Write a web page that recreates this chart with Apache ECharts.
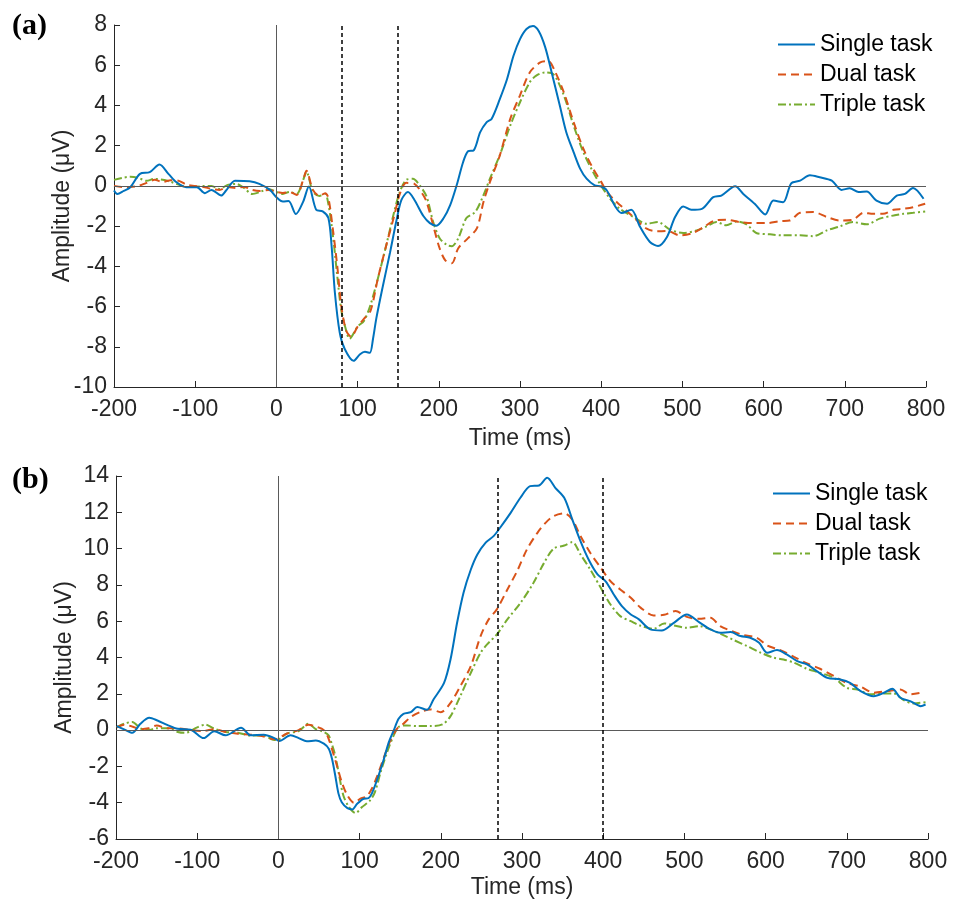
<!DOCTYPE html>
<html>
<head>
<meta charset="utf-8">
<script src="https://cdn.jsdelivr.net/npm/echarts@6/dist/echarts.min.js"></script>
<style>
  html, body { margin: 0; padding: 0; background: #fff; }
  #chart { width: 960px; height: 908px; }
</style>
</head>
<body>
<div id="chart"></div>
<script>
// time (ms), amplitude (uV) pairs
const aSingle = [[-200,-0.23],[-196,-0.4],[-188,-0.25],[-180,-0.07],[-168,0.6],[-156,0.68],[-144,1.06],[-133,0.6],[-123,0.18],[-111,-0.07],[-98,-0.07],[-88,-0.36],[-80,-0.2],[-68,-0.48],[-62,-0.23],[-51,0.26],[-33,0.23],[-21,0.1],[-8,-0.2],[0,-0.56],[8,-0.78],[15,-0.75],[24,-1.4],[33,-0.78],[40,-0.03],[49,-1.19],[57,-1.27],[64,-1.6],[68,-3.0],[72,-5.3],[78,-7.3],[84,-8.1],[95,-8.7],[103,-8.37],[109,-8.25],[115,-8.3],[119,-7.6],[123,-6.6],[131,-5.0],[140,-3.3],[148,-1.7],[154,-0.7],[162,-0.31],[170,-0.7],[181,-1.5],[189,-1.85],[197,-1.98],[206,-1.6],[214,-0.96],[222,0.03],[230,1.19],[236,1.72],[243,1.77],[251,2.67],[259,3.17],[265,3.33],[275,4.3],[284,5.3],[292,6.47],[300,7.3],[308,7.8],[316,7.95],[323,7.7],[331,6.9],[339,5.64],[349,4.0],[357,2.67],[366,1.68],[374,0.86],[382,0.36],[392,0.03],[400,-0.03],[407,-0.23],[417,-1.0],[425,-1.35],[437,-1.19],[448,-2.05],[460,-2.79],[470,-2.99],[481,-2.54],[491,-1.55],[501,-1.02],[511,-1.19],[524,-1.14],[538,-0.56],[548,-0.48],[565,-0.02],[575,-0.4],[589,-0.89],[602,-1.42],[612,-0.73],[624,-0.81],[634,0.13],[645,0.26],[657,0.53],[669,0.43],[684,0.26],[696,-0.2],[706,-0.12],[717,-0.31],[727,-0.28],[739,-0.73],[752,-0.89],[764,-0.48],[774,-0.4],[784,-0.1],[797,-0.64]]
const aDual = [[-200,0.0],[-190,-0.05],[-180,-0.05],[-170,0.0],[-160,0.15],[-150,0.3],[-140,0.2],[-130,0.28],[-120,0.25],[-110,0.05],[-100,0.0],[-90,-0.05],[-80,-0.15],[-70,-0.2],[-60,-0.05],[-50,-0.1],[-40,-0.05],[-30,-0.2],[-20,-0.25],[-10,-0.2],[0,-0.3],[8,-0.35],[16,-0.3],[25,-0.45],[33,0.3],[37,0.75],[45,-0.2],[53,-0.5],[60,-0.36],[64,-0.6],[70,-2.3],[75,-4.0],[80,-6.0],[86,-7.2],[92,-7.5],[100,-7.0],[108,-6.6],[116,-6.2],[125,-4.6],[135,-3.0],[145,-1.5],[152,-0.4],[160,0.15],[170,0.1],[180,-0.4],[185,-0.8],[193,-1.95],[201,-3.1],[208,-3.7],[216,-3.85],[224,-3.1],[236,-2.6],[247,-2.1],[255,-0.8],[263,0.2],[275,1.5],[288,3.33],[300,4.5],[312,5.64],[325,6.14],[335,6.2],[343,5.7],[354,4.65],[366,3.17],[378,1.85],[390,0.86],[400,0.2],[407,-0.3],[419,-0.8],[431,-1.22],[444,-1.72],[456,-2.13],[468,-2.26],[481,-2.24],[497,-2.46],[513,-2.34],[526,-2.05],[540,-1.72],[554,-1.68],[571,-1.8],[587,-1.85],[604,-1.85],[620,-1.75],[632,-1.72],[645,-1.34],[661,-1.3],[678,-1.55],[694,-1.72],[710,-1.68],[723,-1.34],[735,-1.39],[747,-1.39],[760,-1.19],[772,-1.14],[784,-1.06],[799,-0.89]]
const aTriple = [[-200,0.3],[-190,0.4],[-180,0.45],[-170,0.4],[-160,0.25],[-150,0.35],[-140,0.3],[-130,0.2],[-120,0.05],[-110,-0.05],[-100,-0.05],[-90,0.0],[-80,0.0],[-70,-0.15],[-60,0.05],[-50,0.1],[-40,-0.1],[-30,-0.4],[-20,-0.3],[-10,-0.15],[0,-0.3],[8,-0.4],[16,-0.3],[25,-0.4],[33,0.3],[37,0.7],[45,-0.3],[53,-0.5],[60,-0.4],[64,-0.9],[70,-2.6],[75,-4.5],[80,-6.2],[86,-7.2],[90,-7.6],[100,-7.0],[108,-6.7],[116,-5.9],[125,-4.6],[135,-3.0],[145,-1.3],[152,-0.3],[160,0.3],[168,0.35],[177,0.0],[185,-0.54],[193,-1.78],[201,-2.6],[210,-2.94],[216,-3.0],[224,-2.6],[234,-1.6],[245,-1.29],[255,-0.46],[263,0.36],[275,1.52],[288,3.0],[300,4.16],[312,5.15],[320,5.48],[331,5.64],[341,5.56],[354,4.5],[366,3.0],[378,1.68],[390,0.69],[400,0.0],[411,-0.64],[423,-1.14],[440,-1.55],[456,-1.88],[470,-1.8],[485,-2.18],[501,-2.34],[518,-2.21],[530,-2.01],[542,-1.8],[554,-1.96],[567,-1.77],[579,-1.91],[591,-2.34],[608,-2.41],[624,-2.46],[645,-2.46],[661,-2.5],[678,-2.21],[694,-2.01],[710,-1.8],[727,-1.91],[743,-1.63],[760,-1.47],[772,-1.39],[784,-1.34],[799,-1.27]]

const bSingle = [[-199,0.22],[-190,0.04],[-180,-0.15],[-170,0.35],[-159,0.68],[-149,0.53],[-137,0.29],[-124,0.07],[-108,0.02],[-92,-0.44],[-79,-0.06],[-65,-0.29],[-46,0.13],[-34,-0.29],[-18,-0.26],[-5,-0.44],[1,-0.6],[15,-0.29],[25,-0.44],[35,-0.62],[46,-0.57],[56,-0.75],[62,-1.03],[66,-1.58],[70,-2.5],[74,-3.5],[78,-3.97],[85,-4.3],[91,-4.37],[97,-4.06],[105,-3.78],[111,-3.75],[115,-3.5],[122,-2.68],[130,-1.58],[136,-0.66],[142,-0.02],[148,0.62],[154,0.9],[163,0.99],[171,1.27],[183,1.12],[191,1.69],[204,2.6],[212,3.9],[220,5.9],[228,7.57],[237,8.85],[245,9.68],[255,10.32],[265,10.69],[273,11.15],[286,11.97],[298,12.8],[310,13.44],[321,13.48],[331,13.9],[341,13.35],[352,12.8],[362,11.6],[372,10.41],[382,9.4],[393,8.58],[403,8.2],[413,7.47],[423,6.83],[434,6.37],[444,6.1],[458,5.55],[472,5.49],[487,5.91],[503,6.37],[518,5.95],[532,5.55],[544,5.36],[557,5.4],[569,5.18],[581,5.09],[592,4.81],[602,4.26],[614,4.41],[626,4.17],[639,3.8],[651,3.62],[663,3.25],[676,2.88],[692,2.79],[704,2.6],[717,2.15],[733,1.87],[746,2.06],[756,2.28],[766,1.78],[778,1.6],[791,1.32],[797,1.41]]
const bDual = [[-199,0.15],[-190,0.3],[-180,0.2],[-170,0.05],[-160,0.1],[-150,0.25],[-137,0.1],[-124,0.1],[-108,0.0],[-92,-0.05],[-79,0.05],[-65,-0.1],[-50,-0.2],[-34,-0.25],[-18,-0.35],[-5,-0.5],[0,-0.45],[10,-0.2],[25,0.0],[37,0.3],[46,0.2],[56,0.0],[62,-0.5],[72,-1.95],[78,-2.86],[85,-3.6],[93,-4.0],[101,-3.78],[109,-3.64],[115,-3.23],[122,-2.5],[130,-1.49],[138,-0.57],[146,0.07],[154,0.35],[163,0.72],[175,1.0],[187,1.14],[200,0.99],[212,1.5],[224,2.42],[237,3.53],[249,5.18],[259,6.1],[269,6.65],[282,7.75],[294,8.76],[306,9.95],[319,10.87],[329,11.42],[339,11.79],[352,11.94],[362,11.6],[372,10.69],[384,9.77],[397,8.94],[409,8.2],[421,7.75],[434,7.29],[446,6.75],[462,6.32],[475,6.35],[489,6.56],[503,6.24],[518,6.13],[532,6.19],[544,5.73],[559,5.45],[573,5.23],[589,5.09],[602,4.66],[618,4.41],[635,4.04],[651,3.67],[667,3.38],[684,2.98],[700,2.6],[717,2.39],[733,2.06],[750,2.15],[766,2.24],[778,1.97],[791,2.06]]
const bTriple = [[-199,0.15],[-190,0.35],[-180,0.45],[-170,0.1],[-160,0.0],[-150,0.1],[-137,0.1],[-124,-0.1],[-115,-0.15],[-100,0.15],[-90,0.3],[-80,0.1],[-65,-0.1],[-50,-0.15],[-34,-0.3],[-18,-0.3],[-5,-0.55],[1,-0.5],[10,-0.2],[25,-0.05],[37,0.35],[46,0.05],[56,-0.1],[62,-0.3],[66,-0.8],[70,-1.4],[74,-2.3],[80,-3.6],[87,-4.24],[95,-4.57],[103,-4.24],[113,-3.87],[119,-3.4],[126,-2.3],[134,-1.2],[142,-0.29],[148,0.17],[158,0.26],[171,0.22],[187,0.22],[202,0.31],[212,0.77],[224,1.87],[237,3.16],[249,4.26],[257,4.72],[269,5.27],[282,6.1],[298,7.0],[314,8.1],[327,9.2],[339,10.0],[352,10.17],[362,10.36],[372,9.68],[384,8.85],[397,7.84],[409,6.92],[421,6.28],[434,6.0],[446,5.75],[462,5.58],[475,5.88],[487,5.77],[503,5.64],[518,5.73],[532,5.55],[546,5.27],[561,4.96],[577,4.63],[594,4.26],[610,3.99],[622,3.89],[635,3.71],[651,3.38],[667,3.16],[684,2.88],[700,2.33],[713,2.24],[729,1.97],[746,2.02],[758,2.02],[770,1.65],[782,1.47],[797,1.54]]

const seriesNames = ['Single task', 'Dual task', 'Triple task']
const xTicks = [-200, 800, 100]      // min, max, step
const aYTicks = [-10, 8, 2]
const bYTicks = [-6, 14, 2]
const aWindow = [80, 150]
const bWindow = [270, 400]

const FONT = '"Liberation Sans", Arial, Helvetica, sans-serif'
const AXIS_COLOR = '#262626'
const styles = [
  { color: '#0072BD', type: 'solid' },
  { color: '#D95319', type: [8, 5] },
  { color: '#77AC30', type: [8, 3, 2, 3] }
]

const chart = echarts.init(document.getElementById('chart'), null, { renderer: 'canvas' })

function xAxisFor (gridIndex, gap) {
  return {
    type: 'value', gridIndex,
    min: xTicks[0], max: xTicks[1], interval: xTicks[2],
    name: 'Time (ms)', nameLocation: 'middle', nameGap: gap, nameMoveOverlap: false,
    nameTextStyle: { fontFamily: FONT, fontSize: 23, color: AXIS_COLOR },
    axisLine: { onZero: false, lineStyle: { color: AXIS_COLOR, width: 1 } },
    axisTick: { inside: true, length: 6, lineStyle: { color: AXIS_COLOR } },
    axisLabel: { fontFamily: FONT, fontSize: 23, color: AXIS_COLOR, margin: 11 },
    splitLine: { show: false }
  }
}

function yAxisFor (gridIndex, ticks) {
  return {
    type: 'value', gridIndex,
    min: ticks[0], max: ticks[1], interval: ticks[2],
    name: 'Amplitude (μV)', nameLocation: 'middle', nameGap: 40, nameMoveOverlap: false,
    nameTextStyle: { fontFamily: FONT, fontSize: 23, color: AXIS_COLOR },
    axisLine: { show: true, onZero: false, lineStyle: { color: AXIS_COLOR, width: 1 } },
    axisTick: { show: true, inside: true, length: 6, lineStyle: { color: AXIS_COLOR } },
    axisLabel: { fontFamily: FONT, fontSize: 23, color: AXIS_COLOR, margin: 7 },
    splitLine: { show: false }
  }
}

function refLines (win) {
  const zero = { color: '#5a5a5a', type: 'solid', width: 1 }
  const dash = { color: '#000', type: [4, 3], width: 1.5 }
  return {
    silent: true, symbol: 'none', animation: false,
    label: { show: false },
    data: [
      { yAxis: 0, lineStyle: zero },
      { xAxis: 0, lineStyle: zero },
      { xAxis: win[0], lineStyle: dash },
      { xAxis: win[1], lineStyle: dash }
    ]
  }
}

function panelSeries (idx, lists, win) {
  return lists.map((d, i) => ({
    name: seriesNames[i],
    type: 'line',
    xAxisIndex: idx, yAxisIndex: idx,
    data: d,
    smooth: 0.3,
    symbol: 'none',
    animation: false,
    lineStyle: { color: styles[i].color, type: styles[i].type, width: 2 },
    itemStyle: { color: styles[i].color },
    markLine: i === 0 ? refLines(win) : undefined,
    z: 3 - i
  }))
}

function legendAt (left, top) {
  return {
    data: seriesNames, orient: 'vertical', left, top,
    itemWidth: 37, itemHeight: 14, itemGap: 7,
    itemStyle: { opacity: 0, borderWidth: 0 },
    textStyle: { fontFamily: FONT, fontSize: 23, color: '#000' },
    selectedMode: false
  }
}

const opts = {
  backgroundColor: '#fff',
  animation: false,
  grid: [
    { left: 114, top: 25, width: 812, height: 362 },
    { left: 116, top: 476, width: 812, height: 363 }
  ],
  xAxis: [xAxisFor(0, 40), xAxisFor(1, 37)],
  yAxis: [yAxisFor(0, aYTicks), yAxisFor(1, bYTicks)],
  legend: [legendAt(772, 28), legendAt(767, 477)],
  graphic: [
    { type: 'text', left: 12, top: 11, style: { text: '(a)', font: 'bold 30px "Liberation Serif", "Times New Roman", serif', fill: '#000' } },
    { type: 'text', left: 12, top: 465, style: { text: '(b)', font: 'bold 30px "Liberation Serif", "Times New Roman", serif', fill: '#000' } }
  ],
  series: [
    ...panelSeries(0, [aSingle, aDual, aTriple], aWindow),
    ...panelSeries(1, [bSingle, bDual, bTriple], bWindow)
  ]
}

chart.setOption(opts)
</script>
</body>
</html>
